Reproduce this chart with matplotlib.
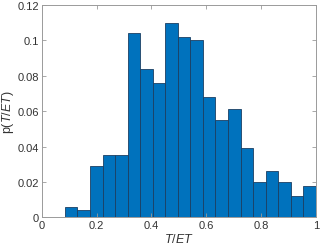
import numpy as np
import matplotlib.pyplot as plt

plt.rcParams['font.family'] = ['Liberation Sans', 'DejaVu Sans']
plt.rcParams['mathtext.fontset'] = 'custom'
plt.rcParams['mathtext.it'] = 'Liberation Sans:italic'
plt.rcParams['mathtext.rm'] = 'Liberation Sans'

# bin range and probabilities
bin_start = 0.084
bin_end = 1.0
probs = [0.006, 0.004, 0.029, 0.035, 0.035, 0.104, 0.084, 0.076, 0.110, 0.102,
         0.100, 0.068, 0.055, 0.061, 0.039, 0.020, 0.026, 0.020, 0.012, 0.018]
x_ticks = [0, 0.2, 0.4, 0.6, 0.8, 1]
x_labels = ["0", "0.2", "0.4", "0.6", "0.8", "1"]
y_ticks = [0, 0.02, 0.04, 0.06, 0.08, 0.1, 0.12]
y_labels = ["0", "0.02", "0.04", "0.06", "0.08", "0.1", "0.12"]

edges = np.linspace(bin_start, bin_end, len(probs) + 1)

fig = plt.figure(figsize=(3.2, 2.51), dpi=100)
ax = fig.add_axes([0.131, 0.130, 0.856, 0.846])

ax.bar(edges[:-1], probs, width=np.diff(edges), align='edge',
       color='#0072BD', edgecolor='#1b3f63', linewidth=0.6)

ax.set_xlim(0, 1)
ax.set_ylim(0, 0.12)
ax.set_xticks(x_ticks)
ax.set_xticklabels(x_labels)
ax.set_yticks(y_ticks)
ax.set_yticklabels(y_labels)
ax.tick_params(direction='in', length=3, width=0.6, labelsize=8,
               color='#9a9a9a', labelcolor='#333333', top=True, right=True, pad=2)
for s in ax.spines.values():
    s.set_color('#9a9a9a')
    s.set_linewidth(0.7)

ax.set_xlabel('$\\mathit{T/ET}$', fontsize=9, color='#333333', labelpad=1)
ax.set_ylabel('p($\\mathit{T/ET}$)', fontsize=9, color='#333333', labelpad=1)

fig.savefig('out.png', dpi=100)
